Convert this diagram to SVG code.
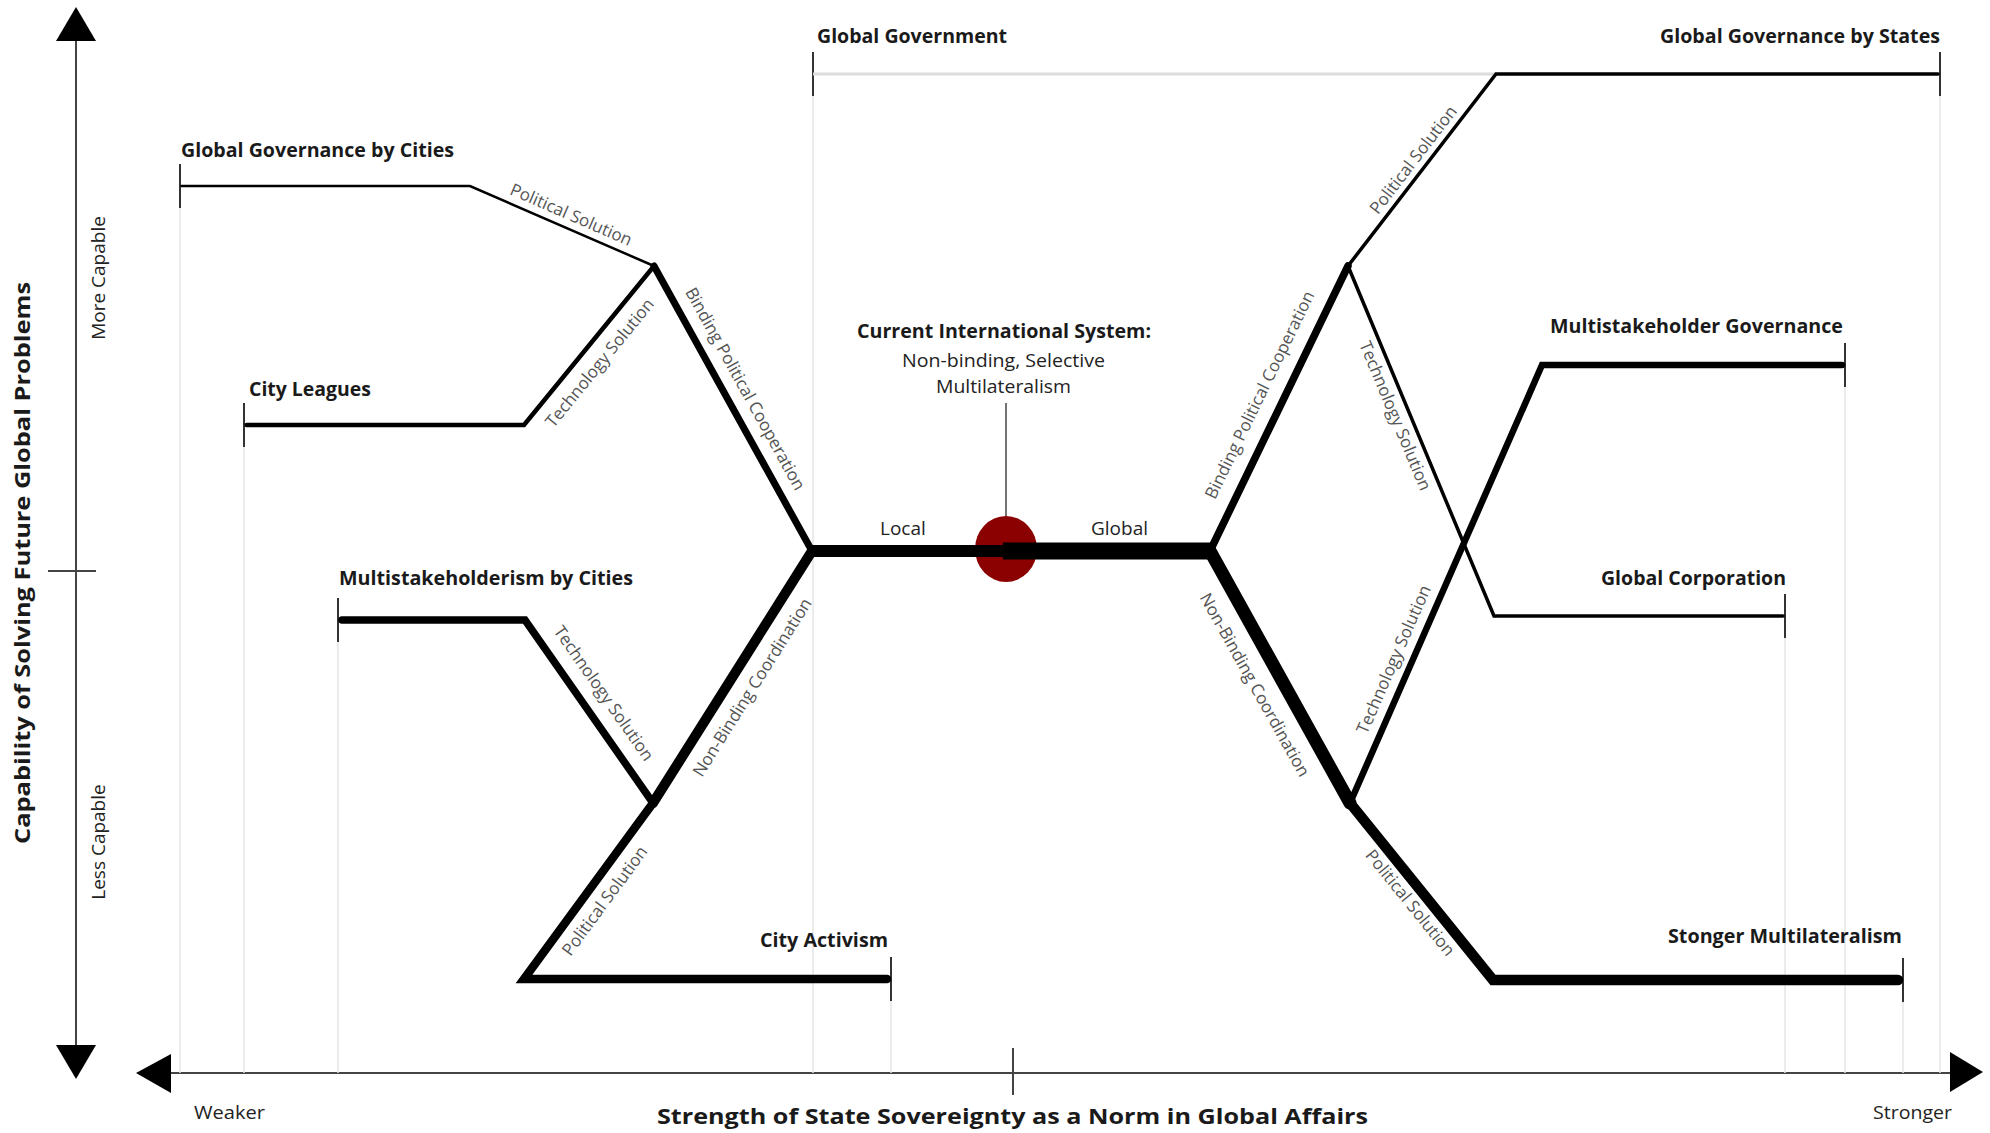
<svg xmlns="http://www.w3.org/2000/svg" width="1990" height="1133" viewBox="0 0 1990 1133">
<style>
.node{font-family:"Open Sans","Liberation Sans",sans-serif;font-weight:700;font-size:19px;fill:#1a1a1a}
.reg{font-family:"Open Sans","Liberation Sans",sans-serif;font-weight:400;font-size:19px;fill:#222}
.elab{font-family:"Open Sans","Liberation Sans",sans-serif;font-weight:400;font-size:17px;fill:#555;text-anchor:middle}
.axt{font-family:"Open Sans","Liberation Sans",sans-serif;font-weight:700;font-size:22px;fill:#1a1a1a;text-anchor:middle}
.grid{stroke:#e4e4e4;stroke-width:1.5;fill:none}
.tick{stroke:#333;stroke-width:2;fill:none}
.axis{stroke:#444;stroke-width:2;fill:none}
.br{stroke:#000;fill:none;stroke-linecap:round;stroke-linejoin:miter;stroke-miterlimit:4}
.bt{stroke:#000;fill:none;stroke-linecap:butt}
</style>
<rect width="1990" height="1133" fill="#fff"/>

<!-- axes -->
<g id="axes">
  <line class="axis" x1="76" y1="38" x2="76" y2="1048"/>
  <polygon points="76,7 56,41 96,41" fill="#000"/>
  <polygon points="76,1079 56,1045 96,1045" fill="#000"/>
  <line class="axis" x1="48" y1="571" x2="96" y2="571" stroke-width="1.5"/>
  <line class="axis" x1="168" y1="1073" x2="1953" y2="1073"/>
  <polygon points="136,1073 171,1054 171,1093" fill="#000"/>
  <polygon points="1983,1072 1950,1052 1950,1092" fill="#000"/>
  <line class="axis" x1="1013" y1="1048" x2="1013" y2="1095" stroke-width="1.5"/>
  <text class="axt" transform="translate(30,563) rotate(-90)" textLength="562" lengthAdjust="spacingAndGlyphs">Capability of Solving Future Global Problems</text>
  <text class="axt" x="1012.5" y="1124" textLength="711" lengthAdjust="spacingAndGlyphs">Strength of State Sovereignty as a Norm in Global Affairs</text>
  <text class="reg" x="194" y="1119" textLength="71" lengthAdjust="spacingAndGlyphs">Weaker</text>
  <text class="reg" x="1873" y="1119" textLength="79" lengthAdjust="spacingAndGlyphs">Stronger</text>
  <text class="reg" transform="translate(105,278) rotate(-90)" text-anchor="middle" fill="#333" font-size="20">More Capable</text>
  <text class="reg" transform="translate(105,842) rotate(-90)" text-anchor="middle" fill="#333" font-size="20">Less Capable</text>
</g>

<!-- nodes -->
<g id="node-gg-cities">
  <line class="grid" x1="180" y1="208" x2="180" y2="1073"/>
  <line class="tick" x1="180" y1="164" x2="180" y2="208"/>
  <text class="node" x="181" y="157" textLength="273" lengthAdjust="spacingAndGlyphs">Global Governance by Cities</text>
</g>
<g id="node-city-leagues">
  <line class="grid" x1="244" y1="447" x2="244" y2="1073"/>
  <line class="tick" x1="244" y1="403" x2="244" y2="447"/>
  <text class="node" x="249" y="396" textLength="122" lengthAdjust="spacingAndGlyphs">City Leagues</text>
</g>
<g id="node-ms-cities">
  <line class="grid" x1="338" y1="642" x2="338" y2="1073"/>
  <line class="tick" x1="338" y1="598" x2="338" y2="642"/>
  <text class="node" x="339" y="585" textLength="294" lengthAdjust="spacingAndGlyphs">Multistakeholderism by Cities</text>
</g>
<g id="node-global-government">
  <line class="grid" x1="813" y1="96" x2="813" y2="1073"/>
  <line class="tick" x1="813" y1="52" x2="813" y2="96"/>
  <text class="node" x="817" y="43" textLength="190" lengthAdjust="spacingAndGlyphs">Global Government</text>
</g>
<g id="node-city-activism">
  <line class="grid" x1="891" y1="1001" x2="891" y2="1073"/>
  <line class="tick" x1="891" y1="957" x2="891" y2="1001"/>
  <text class="node" x="760" y="947" textLength="128" lengthAdjust="spacingAndGlyphs">City Activism</text>
</g>
<g id="node-gg-states">
  <line class="grid" x1="1940" y1="96" x2="1940" y2="1073"/>
  <line class="tick" x1="1940" y1="52" x2="1940" y2="96"/>
  <text class="node" x="1660" y="43" textLength="280" lengthAdjust="spacingAndGlyphs">Global Governance by States</text>
</g>
<g id="node-ms-governance">
  <line class="grid" x1="1845" y1="387" x2="1845" y2="1073"/>
  <line class="tick" x1="1845" y1="343" x2="1845" y2="387"/>
  <text class="node" x="1550" y="333" textLength="293" lengthAdjust="spacingAndGlyphs">Multistakeholder Governance</text>
</g>
<g id="node-global-corporation">
  <line class="grid" x1="1785" y1="638" x2="1785" y2="1073"/>
  <line class="tick" x1="1785" y1="594" x2="1785" y2="638"/>
  <text class="node" x="1601" y="585" textLength="185" lengthAdjust="spacingAndGlyphs">Global Corporation</text>
</g>
<g id="node-stronger-multilateralism">
  <line class="grid" x1="1903" y1="1002" x2="1903" y2="1073"/>
  <line class="tick" x1="1903" y1="958" x2="1903" y2="1002"/>
  <text class="node" x="1668" y="943" textLength="234" lengthAdjust="spacingAndGlyphs">Stonger Multilateralism</text>
</g>

<!-- connectors -->
<g id="connectors">
  <line x1="813" y1="74" x2="1496" y2="74" stroke="#dcdcdc" stroke-width="3"/>
  <path class="br" stroke-width="2.5" d="M181.5,186 L470,186 L654,266"/>
  <path class="br" stroke-width="4.5" d="M246.5,425 L524,425 L654,266"/>
  <path class="br" stroke-width="7" d="M654,266 L812,551"/>
  <path class="br" stroke-width="10" d="M812,551 L653,803"/>
  <path class="br" stroke-width="7.5" d="M342,620 L525,620 L653,803"/>
  <path class="br" stroke-width="8.5" d="M887,979 L524,979 L653,803"/>
  <path class="br" stroke-width="7.5" d="M1210,551 L1348,266"/>
  <path class="br" stroke-width="3.5" d="M1348,266 L1496,74 L1938,74"/>
  <path class="br" stroke-width="3.5" d="M1348,266 L1494,616 L1783,616"/>
  <path class="br" stroke-width="13" d="M1210,551 L1350,803"/>
  <path class="br" stroke-width="6.5" d="M1350,803 L1542,365 L1842,365"/>
  <path class="br" stroke-width="10.5" d="M1350,803 L1493,980 L1898,980"/>

  <text class="elab" transform="translate(571,215) rotate(23.5)" y="5.5">Political Solution</text>
  <text class="elab" transform="translate(600,363) rotate(-50.7)" y="5.5">Technology Solution</text>
  <text class="elab" transform="translate(745,389) rotate(61)" y="5.5">Binding Political Cooperation</text>
  <text class="elab" transform="translate(752.5,687.5) rotate(-57.75)" y="5.5">Non-Binding Coordination</text>
  <text class="elab" transform="translate(603.5,693.5) rotate(55)" y="5.5">Technology Solution</text>
  <text class="elab" transform="translate(605,901) rotate(-53.6)" y="5.5">Political Solution</text>
  <text class="elab" transform="translate(1260,395) rotate(-64.1)" y="5.5">Binding Political Cooperation</text>
  <text class="elab" transform="translate(1413.5,160) rotate(-52.5)" y="5.5">Political Solution</text>
  <text class="elab" transform="translate(1395,416) rotate(67.3)" y="5.5">Technology Solution</text>
  <text class="elab" transform="translate(1254.5,685) rotate(60.9)" y="5.5">Non-Binding Coordination</text>
  <text class="elab" transform="translate(1394,659.5) rotate(-66.3)" y="5.5">Technology Solution</text>
  <text class="elab" transform="translate(1410,903) rotate(51.1)" y="5.5">Political Solution</text>
</g>

<!-- current international system -->
<g id="node-current-system">
  <line x1="1006" y1="403" x2="1006" y2="517" stroke="#444" stroke-width="1.5"/>
  <ellipse cx="1006" cy="549" rx="31" ry="33" fill="#8b0000"/>
  <line class="bt" stroke-width="12" x1="812" y1="551" x2="1006" y2="551"/>
  <line class="bt" stroke-width="17" x1="1003" y1="551" x2="1212" y2="551"/>
  <text class="node" x="857" y="338" textLength="294" lengthAdjust="spacingAndGlyphs">Current International System:</text>
  <text class="reg" x="902" y="367" textLength="203" lengthAdjust="spacingAndGlyphs">Non-binding, Selective</text>
  <text class="reg" x="936" y="393" textLength="135" lengthAdjust="spacingAndGlyphs">Multilateralism</text>
  <text class="reg" x="880" y="535" fill="#333">Local</text>
  <text class="reg" x="1091" y="535" fill="#333">Global</text>
</g>
</svg>
